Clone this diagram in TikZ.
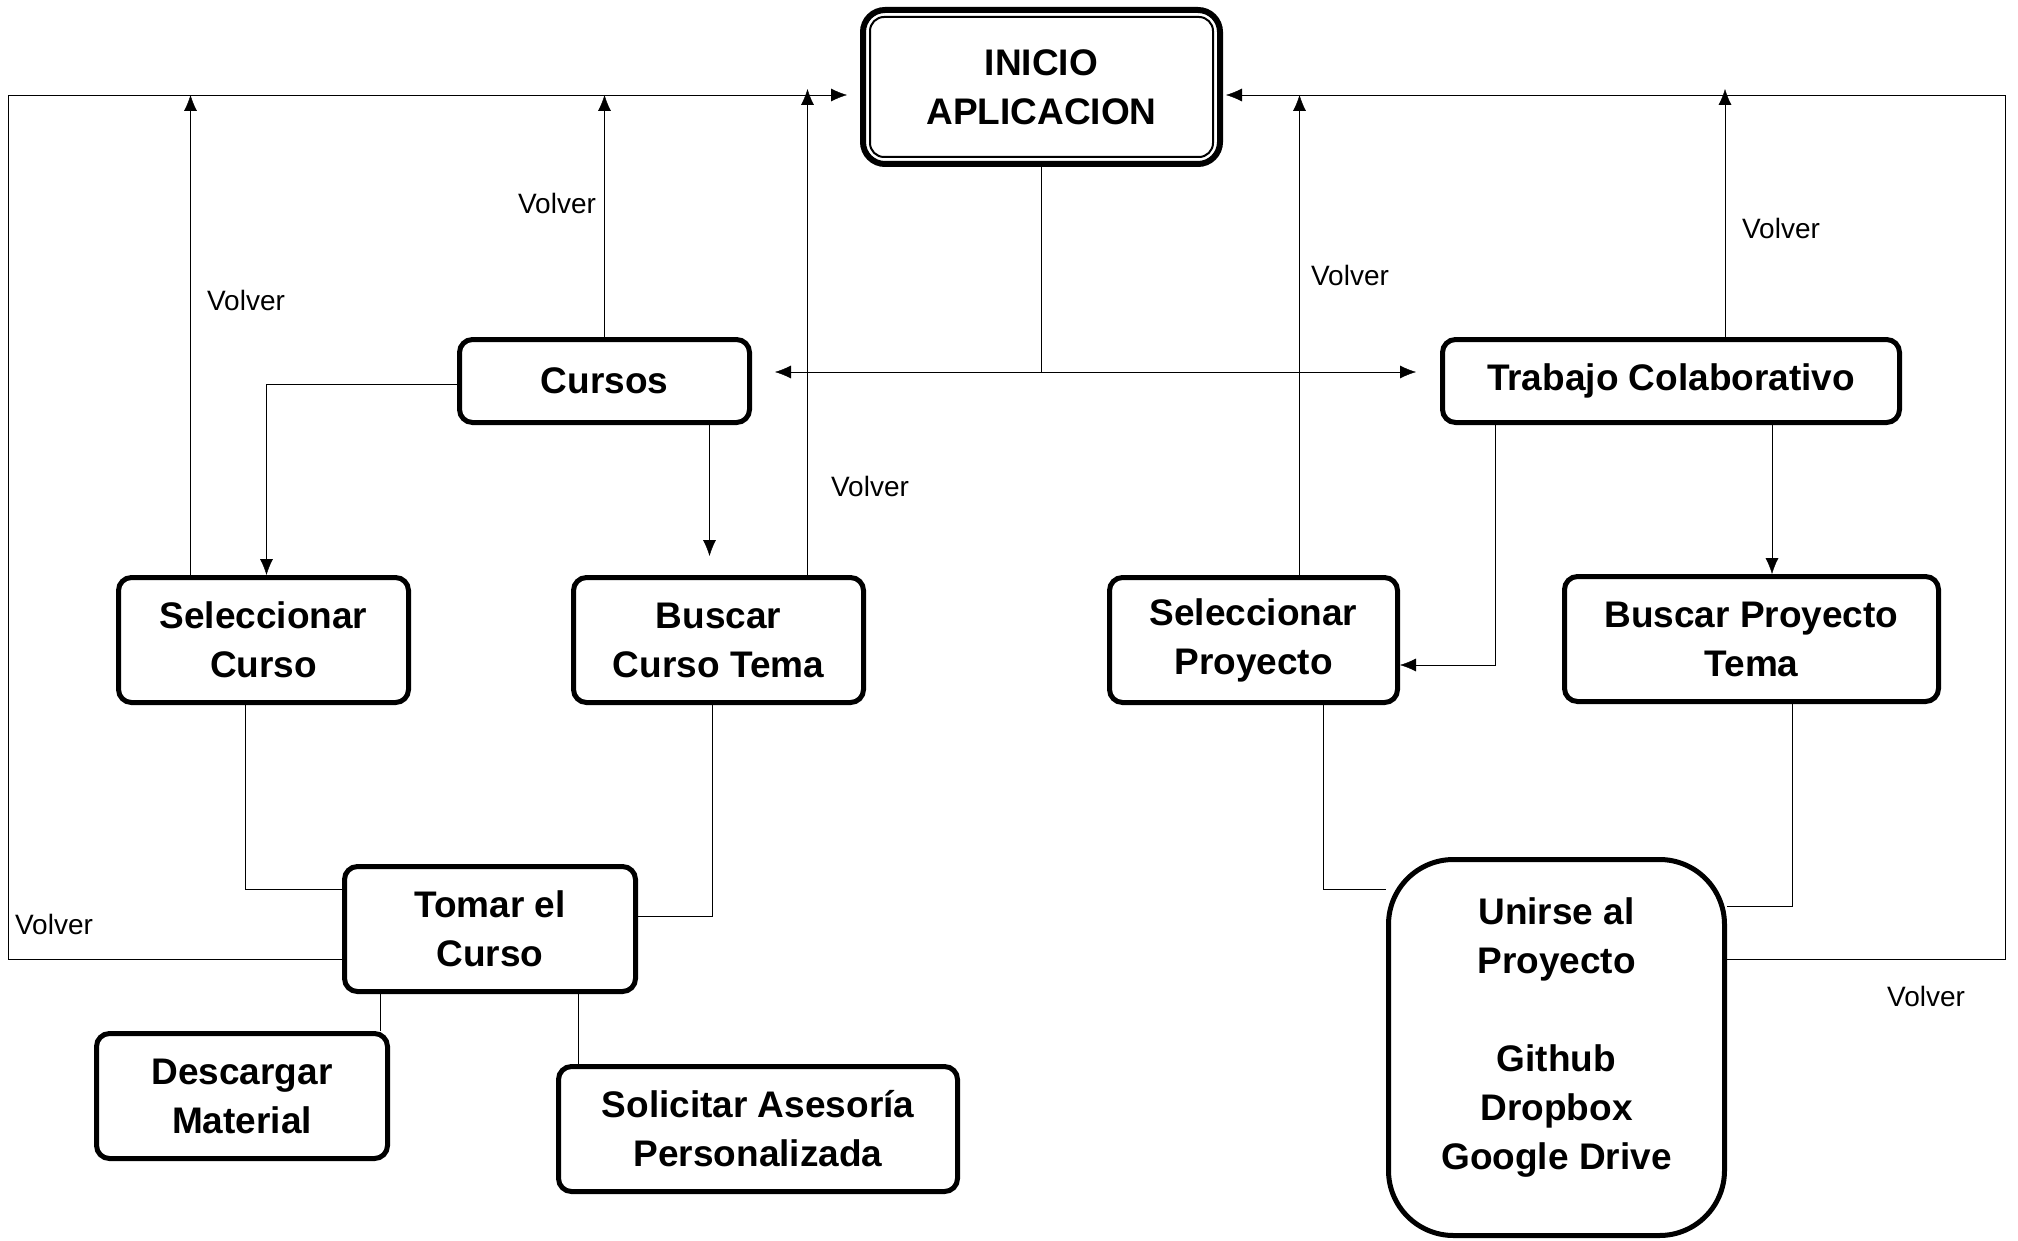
\documentclass[tikz,border=0pt]{standalone}
\usepackage{fontspec}
\setmainfont{Liberation Sans}
\usetikzlibrary{arrows.meta,backgrounds}

\tikzset{
  caja/.style={draw, rectangle, rounded corners=13pt, line width=5pt, fill=white,
    align=center, inner sep=0pt, font=\bfseries\fontsize{37pt}{49pt}\selectfont},
  linea/.style={line width=2.6pt},
  volver/.style={font=\fontsize{28pt}{34pt}\selectfont, inner sep=0pt}
}

\begin{document}
\begin{tikzpicture}[x=1pt, y=-1pt, >={Latex[length=16pt,width=13pt]}]
        \useasboundingbox (0,0) rectangle (2018,1241);

        % Inicio de la aplicacion (doble borde)
        \node[caja, line width=6pt, rounded corners=22pt, minimum width=357pt, minimum height=154pt] (inicio) at (1041.5,87) {INICIO\\APLICACION};
        \draw[line width=2pt, rounded corners=14pt] ([shift={(10pt,-10pt)}]inicio.north west) rectangle ([shift={(-10pt,10pt)}]inicio.south east);

        % Ramas principales
        \node[caja, minimum width=290pt, minimum height=83pt] (cursos) at (604.5,381) {Cursos};
        \node[caja, minimum width=457pt, minimum height=83pt] (trabajo) at (1671,381) {Trabajo Colaborativo};

        % Segundo nivel
        \node[caja, minimum width=290pt, minimum height=125pt] (selcurso) at (263.5,640) {Seleccionar\\Curso};
        \node[caja, minimum width=290pt, minimum height=125pt] (buscurso) at (718.5,640) {Buscar\\Curso Tema};
        \node[caja, minimum width=288pt, minimum height=125pt] (selproy) at (1253.5,640) {Seleccionar\\Proyecto};
        \node[caja, minimum width=374pt, minimum height=125pt] (busproy) at (1751.5,639) {Buscar Proyecto\\Tema};

        % Tercer nivel
        \node[caja, minimum width=291pt, minimum height=125pt] (tomar) at (490,929) {Tomar el\\Curso};
        \node[caja, minimum width=291pt, minimum height=125pt] (descargar) at (242,1096) {Descargar\\Material};
        \node[caja, minimum width=399pt, minimum height=125pt] (asesoria) at (758,1129) {Solicitar Asesoría\\Personalizada};
        \node[caja, rounded corners=65pt, minimum width=336pt, minimum height=376pt] (unirse) at (1556.5,1047.5) {Unirse al\\Proyecto\\[49pt]Github\\Dropbox\\Google Drive\rule[-28pt]{0pt}{0pt}};

        % Puntos del reparto
        \coordinate (izq) at (775,372);
        \coordinate (der) at (1416,372);
        \coordinate (arriba) at (0,95);
        \coordinate (arribaB) at (0,89);

        \begin{scope}[on background layer, linea]
        % Reparto desde el inicio
        \draw (inicio.south) -- (inicio.south |- izq);
        \draw[<->] (izq) -- (der);

        % Retornos al inicio, lado izquierdo
        \draw[->] ([yshift=-30pt]tomar.west) -| (8,95) -- (847,95);
        \draw[->] ([xshift=-73pt]selcurso.north) -- ([xshift=-73pt]selcurso.north |- arriba);
        \draw[->] (cursos.north) -- (cursos.north |- arriba);
        \draw[->] ([xshift=89pt]buscurso.north) -- ([xshift=89pt]buscurso.north |- arribaB);

        % Retornos al inicio, lado derecho
        \draw[->] ([yshift=88pt]unirse.east) -| (2005,95) -- (1226,95);
        \draw[->] ([xshift=46pt]selproy.north) -- ([xshift=46pt]selproy.north |- arriba);
        \draw[->] ([xshift=54pt]trabajo.north) -- ([xshift=54pt]trabajo.north |- arribaB);

        % Cursos
        \draw[->] ([yshift=-3pt]cursos.west) -| ([xshift=3pt]selcurso.north);
        \draw[->] ([xshift=105pt]cursos.south) -- ++(0pt,-131pt);
        \draw ([xshift=-18pt]selcurso.south) |- ([yshift=40pt]tomar.west);
        \draw ([xshift=-6pt]buscurso.south) |- ([yshift=13pt]tomar.east);
        \draw ([xshift=-110pt]tomar.south) -- ([xshift=-110pt]tomar.south |- descargar.north);
        \draw ([xshift=88pt]tomar.south) -- ([xshift=88pt]tomar.south |- asesoria.north);

        % Trabajo colaborativo
        \draw[->] ([xshift=-176pt]trabajo.south) |- ([yshift=-25pt]selproy.east);
        \draw[->] ([xshift=101pt]trabajo.south) -- ([xshift=101pt]trabajo.south |- busproy.north);
        \draw ([xshift=70pt]selproy.south) |- (unirse.west |- 0,889);
        \draw ([xshift=41pt]busproy.south) |- (unirse.east |- 0,906);
        \end{scope}

        % Etiquetas de retorno
        \node[volver] (v1) at (557,203) {Volver};
        \node[volver] (v2) at (246,300) {Volver};
        \node[volver] (v3) at (870,486) {Volver};
        \node[volver] (v4) at (1350,275) {Volver};
        \node[volver] (v5) at (1781,228) {Volver};
        \node[volver] (v6) at (54,924) {Volver};
        \node[volver] (v7) at (1926,996) {Volver};

\end{tikzpicture}
\end{document}
